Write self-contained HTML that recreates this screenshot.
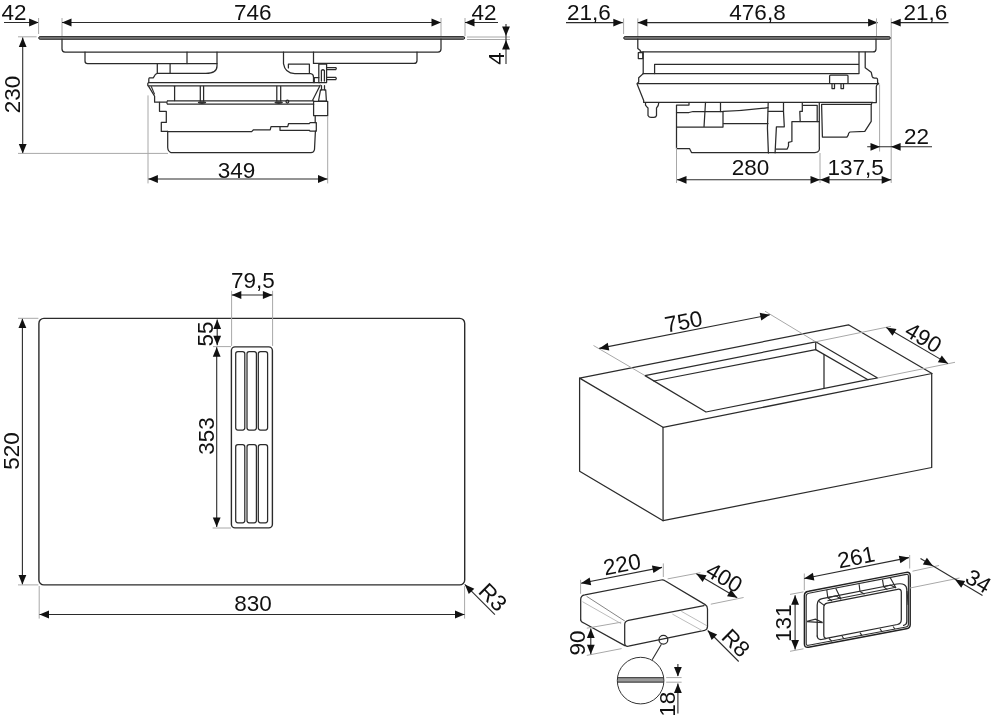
<!DOCTYPE html>
<html><head><meta charset="utf-8"><style>
html,body{margin:0;padding:0;background:#fff;}
svg{display:block;will-change:transform;}
text{font-family:"Liberation Sans",sans-serif;fill:#111;}
.m{fill:none;stroke:#2b2b2b;stroke-width:1.25;stroke-linejoin:round;stroke-linecap:round;}
.m2{fill:none;stroke:#2e2e2e;stroke-width:1.15;}
.m3{fill:none;stroke:#222;stroke-width:1.45;}
.t{fill:none;stroke:#b5b5b5;stroke-width:0.9;}
.t2{fill:none;stroke:#777;stroke-width:0.9;}
.d{fill:none;stroke:#2b2b2b;stroke-width:1.1;}
.e{fill:none;stroke:#a8a8a8;stroke-width:1;}
.a{fill:#111;stroke:none;}
</style></head><body>
<svg width="1000" height="717" viewBox="0 0 1000 717">
<polyline class="d" points="4.00,22.50 38.60,22.50"/>
<polygon class="a" points="38.60,22.50 29.10,26.40 29.10,18.60"/>
<text x="14.00" y="12.20" font-size="22.5" text-anchor="middle" dy="7.87">42</text>
<polyline class="e" points="38.60,18.00 38.60,34.00"/>
<polyline class="e" points="62.00,18.00 62.00,37.00"/>
<polyline class="d" points="62.00,22.50 441.00,22.50"/>
<polygon class="a" points="62.00,22.50 71.50,18.60 71.50,26.40"/>
<polygon class="a" points="441.00,22.50 431.50,26.40 431.50,18.60"/>
<text x="252.70" y="12.00" font-size="22.5" text-anchor="middle" dy="7.87">746</text>
<polyline class="e" points="441.00,18.00 441.00,37.00"/>
<polyline class="e" points="465.00,18.00 465.00,36.00"/>
<polyline class="d" points="465.00,22.50 498.00,22.50"/>
<polygon class="a" points="465.00,22.50 474.50,18.60 474.50,26.40"/>
<text x="484.00" y="12.20" font-size="22.5" text-anchor="middle" dy="7.87">42</text>
<rect x="38.7" y="36.6" width="426" height="2.7" rx="1.35" fill="#7a7a7a" stroke="#2a2a2a" stroke-width="1"/>
<polyline class="e" points="18.00,36.80 36.60,36.80"/>
<polyline class="e" points="467.00,37.00 510.00,37.00"/>
<polyline class="e" points="467.00,39.50 510.00,39.50"/>
<polyline class="d" points="506.00,24.00 506.00,64.00"/>
<polygon class="a" points="506.00,36.00 502.10,26.50 509.90,26.50"/>
<polygon class="a" points="506.00,40.00 509.90,49.50 502.10,49.50"/>
<text x="0" y="0" font-size="22.5" text-anchor="middle" transform="translate(496.00,58.50) rotate(-90)" dy="7.87">4</text>
<polyline class="d" points="22.70,37.50 22.70,153.40"/>
<polygon class="a" points="22.70,37.50 26.60,47.00 18.80,47.00"/>
<polygon class="a" points="22.70,153.40 18.80,143.90 26.60,143.90"/>
<text x="0" y="0" font-size="22.5" text-anchor="middle" transform="translate(12.00,94.50) rotate(-90)" dy="7.87">230</text>
<polyline class="e" points="18.00,153.40 168.00,153.40"/>
<path class="m" d="M62,39 V49 Q62,52 65,52 H438 Q441,52 441,49 V39"/>
<path class="m" d="M85,52 V61 Q85,63.6 87.6,63.6 H217"/>
<polyline class="m" points="187.00,52.00 187.00,63.60"/>
<path class="m" d="M217,52 V66 Q217,73.4 205.8,73.4 H157.3 V63.6"/>
<polyline class="m" points="170.10,63.60 170.10,73.40"/>
<path class="m" d="M283.5,52 V63.7 Q285,73.5 294.8,73.5 H310.5 Q313.5,74 313.5,77 V82.5"/>
<path class="m" d="M288.4,67.9 V64.1 H309.4 V72.8"/>
<polyline class="m" points="313.50,52.00 313.50,63.40"/>
<path class="m" d="M313.5,63.4 H414 Q417,63.4 417,60.4 V52"/>
<path class="m" d="M318.8,82.5 V64.1 H326.6 V82.5 Z"/>
<path class="m" d="M321.4,81 V70.5 Q322.9,69 324.4,70.5 V81"/>
<path class="m" d="M326.6,67.5 H335.8 Q336.8,68.6 335.8,69.7 H326.6"/>
<path class="m" d="M326.6,77.3 H335.8 Q336.8,78.4 335.8,79.5 H326.6"/>
<path class="m" d="M314.3,82.5 V77.6 H318.8"/>
<path class="m" d="M157.3,73.4 Q155,74 154.4,76.2 L153.2,77.8 H149.5 Q148.8,78.2 148.8,79.5 V82.4 L147.8,83.4 V85.6 L148.8,86.6 L154.6,96.3 V102.2 H166.2"/>
<polyline class="m" points="148.50,82.60 319.50,82.60"/>
<polyline class="m" points="148.50,85.90 319.50,85.90"/>
<polyline class="m2" points="151.20,86.30 154.60,94.40"/>
<polyline class="m" points="174.60,86.30 174.60,100.60"/>
<path class="m" d="M200.3,86.3 V101 M203.6,86.3 V101"/>
<path class="m" d="M276.8,86.3 V101 M280.7,86.3 V101"/>
<ellipse cx="202" cy="102.6" rx="4.2" ry="1.3" fill="#333"/>
<ellipse cx="278.7" cy="102.6" rx="4.2" ry="1.3" fill="#333"/>
<circle class="m" cx="287.4" cy="101.6" r="1.4"/>
<path class="m" d="M167.5,100.9 H313.6 M167.5,104.2 H313.6 M167.5,100.9 Q166.2,102.5 167.5,104.2"/>
<path class="m" d="M320.2,85.2 L312.6,100.3"/>
<path class="m" d="M320.5,89.8 H325.7 L326.4,101 H318.5 Z"/>
<path class="m" d="M321.5,85.5 V89.8 M324.5,85.5 V89.8"/>
<path class="m" d="M313.6,101.3 H327.7 V115.7 H313.6 Z"/>
<path class="m" d="M159.5,102.4 V111.3 H166.3 V122.4 H161.3 V131.4 H167.7"/>
<path class="m" d="M167.7,131.6 H251.7 L253.5,129.8 H270.2 L271,126.7 H287.7 L288.6,123.5 H309.3 L310.2,122.6 H316.3 V131.2 H310.2 L309.3,130.3 H280 V126.7"/>
<path class="m" d="M167.7,131.4 V147.5 Q168,151.5 171,152.6 H311 Q314,152.6 314.5,149.5 L315.4,131.2"/>
<path class="m" d="M315.2,115.7 V122.6"/>
<polyline class="e" points="148.00,95.40 148.00,183.40"/>
<polyline class="e" points="327.70,116.00 327.70,183.40"/>
<polyline class="d" points="148.40,179.00 327.50,179.00"/>
<polygon class="a" points="148.40,179.00 157.90,175.10 157.90,182.90"/>
<polygon class="a" points="327.50,179.00 318.00,182.90 318.00,175.10"/>
<text x="236.50" y="170.00" font-size="22.5" text-anchor="middle" dy="7.87">349</text>
<polyline class="d" points="566.00,22.60 622.80,22.60"/>
<polygon class="a" points="622.80,22.60 613.30,26.50 613.30,18.70"/>
<text x="589.00" y="12.20" font-size="22.5" text-anchor="middle" dy="7.87">21,6</text>
<polyline class="e" points="623.60,18.40 623.60,34.00"/>
<polyline class="e" points="637.80,18.40 637.80,37.00"/>
<polyline class="d" points="637.80,22.60 877.60,22.60"/>
<polygon class="a" points="637.80,22.60 647.30,18.70 647.30,26.50"/>
<polygon class="a" points="877.60,22.60 868.10,26.50 868.10,18.70"/>
<text x="757.50" y="12.20" font-size="22.5" text-anchor="middle" dy="7.87">476,8</text>
<polyline class="e" points="876.50,18.40 876.50,37.00"/>
<polyline class="e" points="879.60,84.50 879.60,151.50"/>
<polyline class="e" points="891.20,18.40 891.20,183.00"/>
<polyline class="d" points="891.20,22.60 948.50,22.60"/>
<polygon class="a" points="891.20,22.60 900.70,18.70 900.70,26.50"/>
<text x="925.50" y="12.20" font-size="22.5" text-anchor="middle" dy="7.87">21,6</text>
<rect x="623.7" y="36.6" width="266.6" height="2.7" rx="1.35" fill="#7a7a7a" stroke="#2a2a2a" stroke-width="1"/>
<path class="m" d="M637.8,39 V48.5 L640.3,50.5 V51.9 H873 Q876,51.9 876,48.9 V39"/>
<path class="m" d="M638.3,52.7 H642.8 V58.6 H638.3 Z"/>
<path class="m" d="M643.2,51.9 V73.6"/>
<path class="m" d="M654.6,73.6 V64.4 H859 M859,52 V73.6"/>
<polyline class="m" points="643.20,73.60 858.60,73.60"/>
<path class="m" d="M865.2,52.2 V67.8 L871.2,72.2 L872.2,76.5 Q872.6,78 874.5,78 H876.4 Q877.6,78.3 877.6,80 V82.5 L878.6,83.6"/>
<path class="m" d="M643.2,73.6 L638.7,77.8 V82 L637,83.7 L643.7,100.4 V102.2"/>
<polyline class="m" points="638.00,83.60 878.00,83.60"/>
<path class="m" d="M829.6,83 V76 Q829.6,75 830.6,75 H847 Q848,75 848,76 V83"/>
<path class="m" d="M832,83.6 V88.6 H834.5 V83.6 M841,83.6 V88.6 H843.5 V83.6"/>
<path class="m" d="M878.6,83.6 Q876.3,84.5 876.3,86.5 V102.5 H872.6 Q871.4,103 871.4,104.4"/>
<polyline class="m" points="643.70,102.30 872.60,102.30"/>
<path class="m" d="M645.5,103 V105 Q647,107 648,108 V115.5 Q649,117.4 651,117.4 H654 Q656,117.4 656.5,115.5 V108 Q658.7,106 658.7,103"/>
<path class="m" d="M689,102.5 V105 H676.5 V148.5 H689.5 L691.5,152.5 H815 Q818,152.5 819,150.5 Q819.6,149 819.3,146.5 V102.5"/>
<path class="m" d="M676.5,112.5 H689 L693,111.5 H723"/>
<path class="m" d="M705.5,102.5 L704,127 M720.5,102.5 V111.5 M723,111.5 V127 M676.5,127 H723"/>
<path class="m" d="M723,111.3 Q745,110.6 768,107.6 M723.5,123.5 H768"/>
<path class="m" d="M768.2,102.5 Q766.6,128 768.4,153"/>
<path class="m" d="M768.4,111.4 H783.5 V102.5 M783.5,111.4 L784.3,126.9 H776.4 L775.1,152.8"/>
<path class="m" d="M802.3,102.5 V111.4 H799.8 L800.2,121.5"/>
<path class="m" d="M791.9,121.5 H819.2 M791.9,121.5 V141.5 L788.5,142.4 V146 L787.2,149.1 H776"/>
<path class="m" d="M803.2,105.3 H817.2 V121.5"/>
<path class="m" d="M821.6,104.4 H871.2 V121.4 L864.8,131.4 L850,132 Q848.2,133 848.2,135.2 L846.9,137.1 H822.4 Z"/>
<polyline class="e" points="820.00,153.00 820.00,183.00"/>
<polyline class="d" points="867.20,146.80 932.00,146.80"/>
<polygon class="a" points="880.00,146.80 870.50,150.70 870.50,142.90"/>
<polygon class="a" points="891.10,146.80 900.60,142.90 900.60,150.70"/>
<text x="916.50" y="136.30" font-size="22.5" text-anchor="middle" dy="7.87">22</text>
<polyline class="d" points="677.00,179.80 820.00,179.80"/>
<polygon class="a" points="677.00,179.80 686.50,175.90 686.50,183.70"/>
<polygon class="a" points="820.00,179.80 810.50,183.70 810.50,175.90"/>
<polyline class="e" points="676.50,147.80 676.50,183.00"/>
<text x="750.40" y="167.20" font-size="22.5" text-anchor="middle" dy="7.87">280</text>
<polyline class="d" points="820.00,179.80 891.20,179.80"/>
<polygon class="a" points="820.00,179.80 829.50,175.90 829.50,183.70"/>
<polygon class="a" points="891.20,179.80 881.70,183.70 881.70,175.90"/>
<text x="855.60" y="167.00" font-size="22.5" text-anchor="middle" dy="7.87">137,5</text>
<rect class="m" x="38.9" y="318.4" width="425.8" height="266.5" rx="5" style="stroke-width:1.4"/>
<rect class="m" x="231.4" y="346.9" width="41" height="181" rx="3.6" style="stroke-width:1.4"/>
<rect class="m" x="235.7" y="351.5" width="9.10" height="78.5" rx="2.2"/>
<rect class="m" x="235.7" y="444.7" width="9.10" height="78.1" rx="2.2"/>
<rect class="m" x="247" y="351.5" width="9.40" height="78.5" rx="2.2"/>
<rect class="m" x="247" y="444.7" width="9.40" height="78.1" rx="2.2"/>
<rect class="m" x="258.3" y="351.5" width="9.30" height="78.5" rx="2.2"/>
<rect class="m" x="258.3" y="444.7" width="9.30" height="78.1" rx="2.2"/>
<polyline class="d" points="22.40,318.60 22.40,584.60"/>
<polygon class="a" points="22.40,318.60 26.30,328.10 18.50,328.10"/>
<polygon class="a" points="22.40,584.60 18.50,575.10 26.30,575.10"/>
<text x="0" y="0" font-size="22.5" text-anchor="middle" transform="translate(11.50,451.00) rotate(-90)" dy="7.87">520</text>
<polyline class="e" points="18.00,318.30 38.40,318.30"/>
<polyline class="e" points="18.00,584.90 38.40,584.90"/>
<polyline class="e" points="39.20,586.00 39.20,618.60"/>
<polyline class="e" points="464.60,586.00 464.60,618.60"/>
<polyline class="d" points="39.50,614.50 464.50,614.50"/>
<polygon class="a" points="39.50,614.50 49.00,610.60 49.00,618.40"/>
<polygon class="a" points="464.50,614.50 455.00,618.40 455.00,610.60"/>
<text x="253.00" y="603.50" font-size="22.5" text-anchor="middle" dy="7.87">830</text>
<polyline class="d" points="464.70,584.40 494.90,614.70"/>
<polygon class="a" points="464.90,584.60 474.34,588.65 468.77,594.11"/>
<text x="0" y="0" font-size="22.5" text-anchor="middle" transform="translate(493.00,597.00) rotate(45)" dy="7.87">R3</text>
<polyline class="e" points="231.60,290.80 231.60,345.90"/>
<polyline class="e" points="272.60,290.80 272.60,345.90"/>
<polyline class="d" points="231.80,295.00 272.40,295.00"/>
<polygon class="a" points="231.80,295.00 241.30,291.10 241.30,298.90"/>
<polygon class="a" points="272.40,295.00 262.90,298.90 262.90,291.10"/>
<text x="252.80" y="280.50" font-size="22.5" text-anchor="middle" dy="7.87">79,5</text>
<polyline class="d" points="217.20,319.40 217.20,345.20"/>
<polygon class="a" points="217.20,319.40 221.10,328.90 213.30,328.90"/>
<polygon class="a" points="217.20,345.20 213.30,335.70 221.10,335.70"/>
<polyline class="e" points="213.00,346.60 231.00,346.60"/>
<polyline class="d" points="216.70,347.30 216.70,527.00"/>
<polygon class="a" points="216.70,347.30 220.60,356.80 212.80,356.80"/>
<polygon class="a" points="216.70,527.00 212.80,517.50 220.60,517.50"/>
<polyline class="e" points="212.60,528.00 231.00,528.00"/>
<text x="0" y="0" font-size="22.5" text-anchor="middle" transform="translate(205.50,334.00) rotate(-90)" dy="7.87">55</text>
<text x="0" y="0" font-size="22.5" text-anchor="middle" transform="translate(206.50,436.00) rotate(-90)" dy="7.87">353</text>
<path class="m" d="M579.6,378.1 L848.5,324.8 L932,373.5 L663,427.3 Z"/>
<path class="m" d="M579.6,378.1 V471.3 L663.1,520.7 L931.7,467.5 V373.5"/>
<polyline class="m" points="663.00,427.30 663.10,520.70"/>
<path class="m" d="M645,375.6 L706,412 L868,379.7 L877.6,378 L815.7,341.8 Z"/>
<path class="m" d="M654,381 L815.7,349.6 L868,379.7"/>
<polyline class="m" points="815.70,341.80 815.70,349.60"/>
<polyline class="m" points="824.00,354.60 824.00,388.00"/>
<polyline class="e" points="593.50,345.50 645.00,375.60"/>
<polyline class="e" points="765.00,311.20 815.70,341.80"/>
<polyline class="d" points="599.20,348.40 769.80,314.80"/>
<polygon class="a" points="599.20,348.40 607.77,342.74 609.27,350.39"/>
<polygon class="a" points="769.80,314.80 761.23,320.46 759.73,312.81"/>
<text x="0" y="0" font-size="22.5" text-anchor="middle" transform="translate(683.50,321.50) rotate(-11.2)" dy="7.87">750</text>
<polyline class="e" points="815.70,341.80 891.00,326.30"/>
<polyline class="e" points="877.60,378.00 955.00,362.30"/>
<polyline class="d" points="886.30,327.50 948.00,363.60"/>
<polygon class="a" points="886.30,327.50 896.47,328.93 892.53,335.66"/>
<polygon class="a" points="948.00,363.60 937.83,362.17 941.77,355.44"/>
<text x="0" y="0" font-size="22.5" text-anchor="middle" transform="translate(923.50,337.50) rotate(30.5)" dy="7.87">490</text>
<path class="m" d="M580.7,620 V599.4 Q580.7,595.6 584.8,594.9 L661.2,580 Q663.5,579.6 665,580.8 L705.2,604.6 Q707.5,606 707.5,609 V626.5 Q707.5,629.6 704.5,630.3 L628.5,646.2 Q624.7,646.8 624.7,643 V624.5 Q624.7,621.2 628.4,620.3 L704,605.6"/>
<path class="m" d="M580.7,620 Q580.8,621.8 583.4,622.8 L624.8,645.6"/>
<polyline class="t2" points="586.60,596.30 624.80,621.00"/>
<polyline class="t" points="582.50,601.70 621.20,623.70"/>
<polyline class="t" points="672.40,614.10 702.50,630.80"/>
<polyline class="t" points="681.30,611.30 707.00,625.80"/>
<circle class="m" cx="663.4" cy="639.8" r="4.4"/>
<polyline class="d" points="661.40,644.20 652.20,659.80"/>
<defs><clipPath id="cc"><circle cx="640.6" cy="680.6" r="23.3"/></clipPath></defs>
<g clip-path="url(#cc)"><rect x="615" y="677.3" width="52" height="5.2" fill="#9a9a9a"/><path d="M615,677.7 H667 M615,682.1 H667" stroke="#333" stroke-width="1" fill="none"/></g>
<circle cx="640.6" cy="680.6" r="23.3" fill="none" stroke="#333" stroke-width="1"/>
<polyline class="e" points="580.60,579.80 580.60,593.80"/>
<polyline class="e" points="663.30,563.40 663.30,577.00"/>
<polyline class="d" points="581.10,583.20 662.00,567.40"/>
<polygon class="a" points="581.10,583.20 589.68,577.55 591.17,585.21"/>
<polygon class="a" points="662.00,567.40 653.42,573.05 651.93,565.39"/>
<text x="0" y="0" font-size="22.5" text-anchor="middle" transform="translate(622.00,564.20) rotate(-11)" dy="7.87">220</text>
<polyline class="e" points="667.60,578.90 700.40,572.70"/>
<polyline class="e" points="710.80,604.20 743.60,597.50"/>
<polyline class="d" points="696.40,573.80 737.20,597.80"/>
<polygon class="a" points="696.40,573.80 706.57,575.26 702.61,581.98"/>
<polygon class="a" points="737.20,597.80 727.03,596.34 730.99,589.62"/>
<text x="0" y="0" font-size="22.5" text-anchor="middle" transform="translate(724.40,577.40) rotate(30.5)" dy="7.87">400</text>
<polyline class="e" points="586.80,628.20 621.20,622.20"/>
<polyline class="e" points="586.80,655.40 621.60,648.60"/>
<polyline class="d" points="590.80,628.40 590.80,654.20"/>
<polygon class="a" points="590.80,628.40 594.70,637.90 586.90,637.90"/>
<polygon class="a" points="590.80,654.20 586.90,644.70 594.70,644.70"/>
<text x="0" y="0" font-size="22.5" text-anchor="middle" transform="translate(577.40,643.00) rotate(-90)" dy="7.87">90</text>
<polyline class="d" points="707.70,630.50 738.70,661.50"/>
<polygon class="a" points="707.70,630.50 717.18,634.46 711.66,639.98"/>
<text x="0" y="0" font-size="22.5" text-anchor="middle" transform="translate(736.00,642.80) rotate(45)" dy="7.87">R8</text>
<polyline class="e" points="666.20,677.60 681.60,677.60"/>
<polyline class="e" points="666.20,682.20 681.60,682.20"/>
<polyline class="d" points="677.90,664.00 677.90,676.00"/>
<polygon class="a" points="677.90,676.40 674.00,666.90 681.80,666.90"/>
<polyline class="d" points="677.90,683.50 677.90,713.50"/>
<polygon class="a" points="677.90,683.50 681.80,693.00 674.00,693.00"/>
<text x="0" y="0" font-size="22.5" text-anchor="middle" transform="translate(667.00,704.20) rotate(-90)" dy="7.87">18</text>
<path class="m3" d="M804.4,595.5 Q804.4,591.9 808.6,591.3 L906.3,572.4 Q910.2,571.8 910.2,575.6 V624.8 Q910.2,628.2 906.3,628.8 L808.5,647.2 Q804.4,647.9 804.4,644 Z"/>
<path class="m2" d="M806.2,596 Q806.2,593.7 808.8,593.2 L906.3,574.4 Q908.4,574 908.4,576.4 V624.3 Q908.4,626.6 906,627 L808.6,645.3 Q806.2,645.8 806.2,643.5 Z"/>
<path class="m" d="M817.2,636 V605 Q817.2,599.6 822.2,598.6 L896.8,584 Q906.8,582.5 906.8,590 V621.5 Q906.8,624.6 903.6,625.3"/>
<path class="m" d="M823.8,607.5 Q823.8,603.8 827.2,603.1 L897.5,589.3 Q901.3,588.6 901.3,592 V619.5 Q901.3,623.6 897.4,624.5 L827.5,638.2 Q823.8,638.9 823.8,635 Z"/>
<path class="m" d="M817.2,636 Q817.5,639.8 821.5,639.5 L826,638.6"/>
<path class="m2" d="M827.5,600.8 L896,587.2"/>
<path class="m2" d="M819,601.5 L824.6,605.6"/>
<path class="m2" d="M826.8,590 L827.8,597.6 L832,601 M835.7,588.2 L841.1,599.2 M827.8,597.6 L836,595.8 L841.1,599.2"/>
<path class="m2" d="M859.1,584.2 L860,591.5 L864.5,594.3"/>
<path class="m2" d="M882.5,579.6 L883.6,586.6 L887.3,589.6 M890,577.3 L896,588 M883.6,586.6 L890.5,585 L896,588"/>
<path class="m2" d="M807,621.2 L815.5,619.2 L822.7,622.6 M807,621.6 L822.7,622.6"/>
<path class="m2" d="M907,591 L908.2,605"/>
<path class="m2" d="M829,638.5 L832,641.3 M842,636 L844,639 M860,632.6 L862,635.6 M880,628.8 L882,631.8 M893,626.5 L895,629"/>
<polyline class="e" points="804.30,573.50 804.30,590.20"/>
<polyline class="e" points="909.70,555.00 909.70,568.50"/>
<polyline class="d" points="804.30,578.50 908.90,557.60"/>
<polygon class="a" points="804.30,578.50 812.85,572.81 814.38,580.46"/>
<polygon class="a" points="908.90,557.60 900.35,563.29 898.82,555.64"/>
<text x="0" y="0" font-size="22.5" text-anchor="middle" transform="translate(856.20,557.10) rotate(-11.2)" dy="7.87">261</text>
<polyline class="e" points="790.00,594.40 803.50,591.90"/>
<polyline class="e" points="790.00,651.30 803.50,648.80"/>
<polyline class="d" points="795.10,595.20 795.10,649.60"/>
<polygon class="a" points="795.10,595.20 799.00,604.70 791.20,604.70"/>
<polygon class="a" points="795.10,649.60 791.20,640.10 799.00,640.10"/>
<text x="0" y="0" font-size="22.5" text-anchor="middle" transform="translate(783.00,623.30) rotate(-90)" dy="7.87">131</text>
<polyline class="e" points="912.50,571.20 939.00,565.50"/>
<polyline class="e" points="910.00,588.00 959.50,578.00"/>
<polyline class="d" points="920.50,558.50 982.50,595.50"/>
<polygon class="a" points="933.00,566.00 922.85,564.46 926.86,557.77"/>
<polygon class="a" points="955.00,579.50 965.16,581.01 961.17,587.71"/>
<text x="0" y="0" font-size="22.5" text-anchor="middle" transform="translate(978.50,581.00) rotate(30.5)" dy="7.87">34</text>
</svg>
</body></html>
